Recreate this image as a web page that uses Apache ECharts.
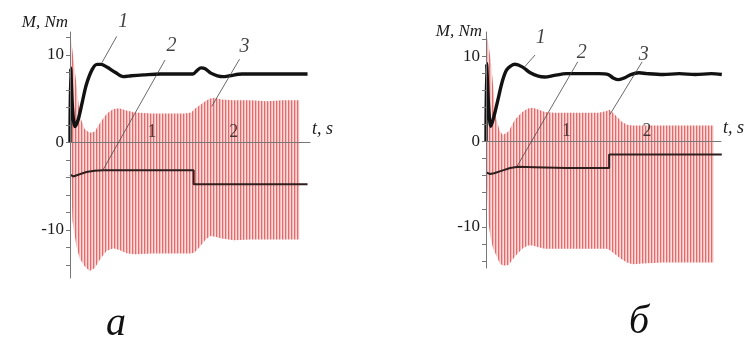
<!DOCTYPE html>
<html>
<head>
<meta charset="utf-8">
<script src="https://cdn.jsdelivr.net/npm/echarts@6.0.0/dist/echarts.min.js"></script>
<style>
  html, body { margin: 0; background: #fff; }
  #chart { width: 748px; height: 340px; }
</style>
</head>
<body>
<div id="chart"></div>
<script>
// panel a: envelope of the pulsating torque (curve 3)
const tA3 = [0, 0.03, 0.08, 0.12, 0.18, 0.24, 0.3, 0.38, 0.45, 0.53, 0.6, 0.7, 0.8, 1.0, 1.2, 1.4, 1.48, 1.52, 1.58, 1.65, 1.71, 1.77, 1.85, 2.0, 2.2, 2.4, 2.6, 2.8]
const upperA3 = [12.6, 10.5, 6.5, 3.0, 1.5, 1.1, 1.2, 2.4, 3.3, 3.8, 3.9, 3.6, 3.4, 3.3, 3.3, 3.3, 3.4, 3.8, 4.2, 4.7, 5.0, 5.1, 4.9, 4.8, 4.8, 4.7, 4.8, 4.8]
const lowerA3 = [0, -9, -12, -13.3, -14.2, -14.7, -14.4, -13.2, -12.4, -12.1, -12.3, -12.7, -12.8, -12.7, -12.7, -12.7, -12.7, -12.6, -12.0, -11.2, -10.7, -10.8, -11.0, -11.2, -11.1, -11.1, -11.1, -11.1]
// panel a: curve 1
const tA1 = [0, 0.008, 0.03, 0.06, 0.1, 0.15, 0.2, 0.27, 0.33, 0.38, 0.45, 0.55, 0.65, 0.75, 0.9, 1.1, 1.3, 1.5, 1.55, 1.6, 1.65, 1.72, 1.8, 1.87, 1.95, 2.1, 2.3, 2.5, 2.7, 2.9]
const valA1 = [0, 8.5, 4, 1.8, 2.6, 4.6, 6.6, 8.3, 8.9, 8.9, 8.6, 8.0, 7.5, 7.6, 7.7, 7.8, 7.8, 7.8, 8.2, 8.5, 8.4, 7.9, 7.6, 7.5, 7.6, 7.8, 7.8, 7.8, 7.8, 7.8]
// panel a: curve 2
const tA2 = [0, 0.04, 0.1, 0.2, 0.3, 0.4, 0.6, 1.0, 1.51, 1.51, 2.0, 2.5, 2.9]
const valA2 = [-3.7, -3.9, -3.7, -3.4, -3.25, -3.2, -3.2, -3.2, -3.2, -4.8, -4.8, -4.8, -4.8]

// panel б
const tB3 = [0, 0.03, 0.06, 0.09, 0.12, 0.17, 0.21, 0.28, 0.36, 0.45, 0.52, 0.58, 0.65, 0.73, 0.85, 1.0, 1.2, 1.4, 1.5, 1.53, 1.6, 1.68, 1.75, 1.82, 2.0, 2.2, 2.4, 2.6, 2.83]
const upperB3 = [12.9, 11.5, 9.5, 6.5, 3.0, 1.3, 0.8, 1.2, 2.6, 3.5, 3.9, 4.0, 3.8, 3.5, 3.4, 3.4, 3.4, 3.4, 3.6, 3.8, 3.2, 2.4, 2.0, 1.9, 1.9, 1.9, 1.9, 1.9, 1.9]
const lowerB3 = [-2, -9.5, -11.5, -12.6, -13.2, -14.3, -14.6, -14.5, -13.5, -12.6, -12.2, -12.2, -12.4, -12.6, -12.6, -12.6, -12.6, -12.6, -12.6, -12.7, -13.2, -13.8, -14.2, -14.4, -14.3, -14.2, -14.2, -14.2, -14.2]
const tB1 = [0, 0.008, 0.03, 0.06, 0.11, 0.15, 0.2, 0.26, 0.36, 0.45, 0.55, 0.65, 0.73, 0.85, 1.0, 1.2, 1.4, 1.52, 1.58, 1.65, 1.72, 1.8, 1.9, 2.0, 2.2, 2.4, 2.6, 2.8, 2.93]
const valB1 = [0, 9.2, 4.5, 1.8, 3.4, 5.0, 7.0, 8.5, 9.1, 8.8, 8.1, 7.7, 7.6, 7.8, 8.0, 8.0, 8.0, 7.9, 7.5, 7.3, 7.5, 7.9, 8.1, 8.0, 7.9, 8.0, 7.9, 8.0, 7.9]
const tB2 = [0, 0.05, 0.1, 0.2, 0.3, 0.4, 0.6, 1.0, 1.53, 1.53, 2.0, 2.5, 2.93]
const valB2 = [-3.6, -3.8, -3.7, -3.4, -3.1, -2.95, -3.0, -3.1, -3.1, -1.5, -1.5, -1.5, -1.5]

// curve labels [t, M] and their leader lines [[t, M], [t, M]]
const curveNames = ['1', '2', '3']
const labelPosA = [[0.65, 13.8], [1.24, 11.0], [2.13, 10.9]]
const leadersA = [[[0.57, 12.1], [0.39, 9.1]], [[1.16, 9.4], [0.40, -3.2]], [[2.07, 9.5], [1.73, 4.1]]]
const labelPosB = [[0.68, 12.2], [1.19, 10.5], [1.96, 10.2]]
const leadersB = [[[0.61, 10.2], [0.48, 8.8]], [[1.14, 9.4], [0.385, -2.9]], [[1.94, 9.4], [1.54, 3.2]]]

const yTicks = [-14, -12, -10, -8, -6, -4, -2, 0, 2, 4, 6, 8, 10, 12]
const yLabels = [-10, 0, 10]
const xLabels = [1, 2]

const serif = "'Liberation Serif', 'Times New Roman', serif"

// vertical hatching to imitate the dense oscillation
const hatch = document.createElement('canvas')
hatch.width = 3
hatch.height = 4
const hc = hatch.getContext('2d')
;['#e66a6a', '#f4baba', '#fadcdc'].forEach((c, i) => {
  hc.fillStyle = c
  hc.fillRect(i, 0, 1, 4)
})

const zip = (xs, ys) => xs.map((x, i) => [x, ys[i]])

function xAxisFor(idx, max) {
  return {
    type: 'value', gridIndex: idx, min: 0, max, z: 5,
    axisLine: { onZero: true, lineStyle: { color: '#777', width: 1 } },
    axisTick: { show: false },
    splitLine: { show: false },
    axisLabel: { show: false },
    name: 't, s',
    nameLocation: 'end',
    nameGap: 2,
    nameTextStyle: {
      fontFamily: serif, fontStyle: 'italic', fontSize: 18, color: '#1a1a1a',
      align: 'left', verticalAlign: 'bottom', padding: [0, 0, 4, 0]
    }
  }
}

function yAxisFor(idx, min, max, nameGap, namePad) {
  return {
    type: 'value', gridIndex: idx, min, max, z: 5,
    axisLine: { show: true, onZero: false, lineStyle: { color: '#777', width: 1 } },
    axisTick: { show: true, length: 4, customValues: yTicks, lineStyle: { color: '#777' } },
    splitLine: { show: false },
    axisLabel: {
      customValues: yLabels, margin: 6,
      fontFamily: serif, fontSize: 17, color: '#1a1a1a'
    },
    name: 'M, Nm',
    nameLocation: 'end',
    nameGap,
    nameTextStyle: {
      fontFamily: serif, fontStyle: 'italic', fontSize: 17, color: '#1a1a1a',
      align: 'right', verticalAlign: 'middle', padding: namePad
    }
  }
}

function panelSeries(idx, t3, upper, lower, t1, v1, t2, v2, labelPos, leaders) {
  const ax = { xAxisIndex: idx, yAxisIndex: idx }
  const list = [
    {
      // band between the upper and lower envelope of curve 3
      ...ax, type: 'custom', coordinateSystem: 'cartesian2d', silent: true, z: 1,
      data: [[t3[0], upper[0]]],
      renderItem: (params, api) => {
        const pts = t3.map((t, i) => api.coord([t, upper[i]]))
        for (let i = t3.length - 1; i >= 0; i--) pts.push(api.coord([t3[i], lower[i]]))
        return {
          type: 'polygon',
          shape: { points: pts },
          style: { fill: { image: hatch, repeat: 'repeat' }, stroke: null }
        }
      }
    },
    {
      ...ax, type: 'line', data: zip(t2, v2), symbol: 'none',
      lineStyle: { color: '#2e1e1e', width: 2 }, silent: true
    },
    {
      ...ax, type: 'line', data: zip(t1, v1), symbol: 'none', smooth: 0.3,
      lineStyle: { color: '#121212', width: 3.4 }, silent: true
    }
  ]
  leaders.forEach(seg => {
    list.push({
      ...ax, type: 'line', data: seg, symbol: 'none',
      lineStyle: { color: '#444', width: 0.8 }, silent: true, z: 6
    })
  })
  list.push({
    ...ax, type: 'scatter', clip: false, symbolSize: 1, silent: true, z: 6,
    itemStyle: { color: 'rgba(0,0,0,0)' },
    label: {
      show: true, position: 'inside', formatter: '{b}',
      fontFamily: serif, fontStyle: 'italic', fontSize: 20, color: '#111'
    },
    data: labelPos.map((p, i) => ({ name: curveNames[i], value: p }))
  })
  // time tick labels sitting just above the zero line
  list.push({
    ...ax, type: 'scatter', symbolSize: 1, silent: true, z: 6,
    itemStyle: { color: 'rgba(0,0,0,0)' },
    label: {
      show: true, position: 'top', distance: 1, formatter: '{b}',
      fontFamily: serif, fontSize: 18, color: '#1a1a1a'
    },
    data: xLabels.map(v => ({ name: String(v), value: [v, 0] }))
  })
  return list
}

const chart = echarts.init(document.getElementById('chart'), null, { renderer: 'canvas' })
chart.setOption({
  animation: false,
  backgroundColor: '#fff',
  grid: [
    { left: 70, top: 32, width: 240, height: 246 },
    { left: 486, top: 32, width: 235, height: 236 }
  ],
  xAxis: [xAxisFor(0, 2.93), xAxisFor(1, 2.92)],
  yAxis: [yAxisFor(0, -15.5, 12.6, 9, [0, 2, 0, 0]), yAxisFor(1, -14.85, 12.9, 0, [0, 4, -18, 0])],
  graphic: [
    { type: 'text', left: 106, top: 304, style: { text: 'а', font: "italic 40px 'Liberation Serif', serif", fill: '#111' } },
    { type: 'text', left: 629, top: 302, style: { text: 'б', font: "italic 40px 'Liberation Serif', serif", fill: '#111' } }
  ],
  series: [
    ...panelSeries(0, tA3, upperA3, lowerA3, tA1, valA1, tA2, valA2, labelPosA, leadersA),
    ...panelSeries(1, tB3, upperB3, lowerB3, tB1, valB1, tB2, valB2, labelPosB, leadersB)
  ]
})
</script>
</body>
</html>
